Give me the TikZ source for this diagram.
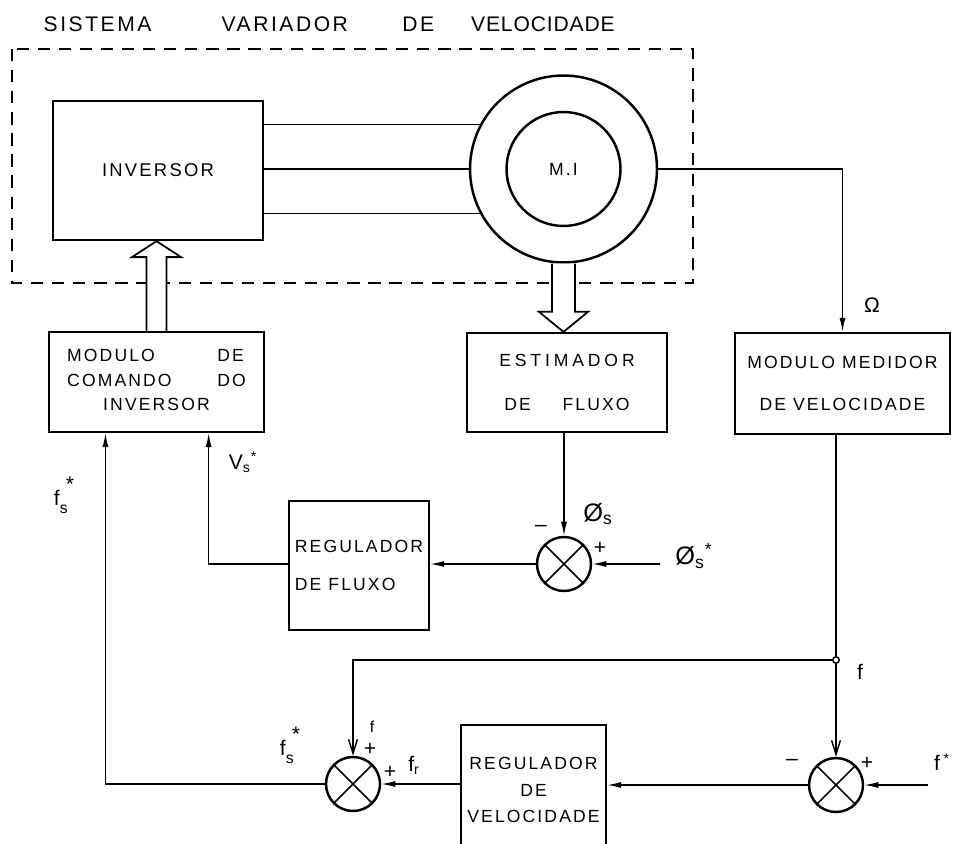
\documentclass[tikz,border=0pt]{standalone}
\usepackage{fontspec}
\setmainfont{Liberation Sans}[LetterSpace=12]
\usetikzlibrary{arrows.meta, calc, positioning}

\begin{document}
\begin{tikzpicture}[x=0.02cm, y=-0.02cm, line width=0.8pt,
  >={Latex[length=8pt,width=3.5pt]},
  box/.style={rectangle, draw, line width=1.3pt, inner sep=2pt, align=center},
  ring/.style={circle, draw, line width=1.4pt, inner sep=0pt},
  sumj/.style={circle, draw, line width=1.4pt, minimum size=1.08cm, inner sep=0pt,
    path picture={\draw[line width=0.9pt]
      (path picture bounding box.north west) -- (path picture bounding box.south east)
      (path picture bounding box.north east) -- (path picture bounding box.south west);}},
  hollowarrow/.style={draw, line width=1pt, fill=white, line join=miter},
  frame/.style={line width=0.9pt, dash pattern=on 7pt off 5pt},
  tap/.style={-{Straight Barb[length=8pt,width=5pt]}},
  lbl/.style={inner sep=0pt, font=\large}]
  \useasboundingbox (0,0) rectangle (959,844);

  % sistema variador
  \node[anchor=base west, inner sep=0pt, font=\fontsize{12}{14}\selectfont] (title) at (43,32)
    {SISTEMA\hspace{40pt}VARIADOR\hspace{31pt}DE\hspace{21pt}{\addfontfeature{LetterSpace=4}VELOCIDADE}};
  \draw[frame] (12,49) rectangle (693,283);

  % blocks
  \node[box, minimum width=4.2cm, minimum height=2.78cm, font=\fontsize{10.5}{12}\selectfont] (inv) at (158,170.5) {INVERSOR};
  \node[ring, minimum size=3.74cm] (motor) at (563.5,169) {};
  \node[ring, minimum size=2.28cm] (rotor) at (motor) {M.I};
  \node[box, minimum width=4.3cm, minimum height=2cm] (cmd) at (156.5,382)
    {\begin{tabular}{@{}l@{\hspace{26pt}}l@{}}
      MODULO & DE\\[2pt]
      COMANDO & DO\\[2pt]
      \multicolumn{2}{c}{INVERSOR}
    \end{tabular}};
  \node[box, minimum width=4cm, minimum height=1.98cm] (est) at (567,382.5)
    {{\addfontfeature{LetterSpace=22}ESTIMADOR}\\[13pt]DE\hspace{18pt}FLUXO};
  \node[box, minimum width=4.3cm, minimum height=2.02cm] (med) at (842.5,383.5)
    {MODULO MEDIDOR\\[12pt]DE VELOCIDADE};
  \node[box, align=left, minimum width=2.8cm, minimum height=2.58cm] (regf) at (359,565.5)
    {REGULADOR\\[10pt]DE FLUXO};
  \node[box, minimum width=2.9cm, minimum height=2.6cm] (regv) at (533.5,790)
    {REGULADOR\\[3pt]DE\\[3pt]VELOCIDADE};

  % somadores
  \node[sumj] (sumf) at (564,564) {};
  \node[sumj] (suml) at (353,784) {};
  \node[sumj] (sumr) at (836,785) {};
  \node[circle, draw, fill=white, line width=0.8pt, inner sep=1.3pt] (fdot) at (836,660) {};
  \coordinate (phiin) at (660,564);
  \coordinate (fin) at (928,785);
  \coordinate (vsin) at ($(cmd.south west)!0.74!(cmd.south east)$);
  \coordinate (fsin) at ($(cmd.south west)!0.265!(cmd.south east)$);

  % inversor -> motor
  \draw (inv.east |- motor.152) -- (motor.152);
  \draw (inv.east |- motor.west) -- (motor.west);
  \draw (inv.east |- motor.208) -- (motor.208);
  \draw[->] (motor.east) -| (med.north);

  % hollow arrows
  \draw[hollowarrow] ($(cmd.north)+(-10,0)$) -- ($(cmd.north |- inv.south)+(-10,16)$)
    -- ++(-14.5,0) -- (cmd.north |- inv.south) -- ($(cmd.north |- inv.south)+(24.5,16)$)
    -- ++(-14.5,0) -- ($(cmd.north)+(10,0)$);
  \draw[hollowarrow] ($(motor.south)+(-11.5,0)$) -- ($(motor.south |- est.north)+(-11.5,-20)$)
    -- ++(-13,0) -- (motor.south |- est.north) -- ($(motor.south |- est.north)+(24.5,-20)$)
    -- ++(-13,0) -- ($(motor.south)+(11.5,0)$);

  % malha de fluxo
  \draw[->] (sumf |- est.south) -- (sumf.north);
  \draw[->] (phiin) -- (sumf.east);
  \draw[->] (sumf.west) -- (sumf.west -| regf.east);
  \draw[->] (sumf.west -| regf.west) -| (vsin);

  % malha de velocidade
  \draw (fdot |- med.south) -- (fdot);
  \draw[tap] (fdot) -- (sumr.north);
  \draw[tap] (fdot) -| (suml.north);
  \draw[->] (fin) -- (sumr.east);
  \draw[->] (sumr.west) -- (sumr.west -| regv.east);
  \draw[->] (suml.east -| regv.west) -- (suml.east);
  \draw[->] (suml.west) -| (fsin);

  % labels
  \node[lbl] (omega) at (872,305) {Ω};
  \node[lbl] (vs) at (243,462) {V\textsubscript{s}\textsuperscript{*}};
  \node[lbl] (fsa) at (64,495) {f\raisebox{-0.7ex}{\small s}\kern-1pt\raisebox{1.3ex}{*}};
  \node[lbl, font=\Large] (phis) at (598,514) {Ø\textsubscript{s}};
  \node[lbl] (mphi) at (541,528) {--};
  \node[lbl] (pphi) at (600,548) {+};
  \node[lbl, font=\Large] (phiref) at (694,556) {Ø\textsubscript{s}\textsuperscript{*}};
  \node[lbl] (fsb) at (290,745) {f\raisebox{-0.7ex}{\small s}\kern-1pt\raisebox{1.3ex}{*}};
  \node[lbl, font=\small] (ftop) at (372,727) {f};
  \node[lbl] (pf) at (370,749) {+};
  \node[lbl] (pfr) at (390,772) {+};
  \node[lbl] (fr) at (414,765) {f\textsubscript{r}};
  \node[lbl] (fmeas) at (860,672) {f};
  \node[lbl] (mf) at (792,762) {--};
  \node[lbl] (pfs) at (867,763) {+};
  \node[lbl] (fref) at (942,762) {f\,\textsuperscript{*}};
\end{tikzpicture}
\end{document}
